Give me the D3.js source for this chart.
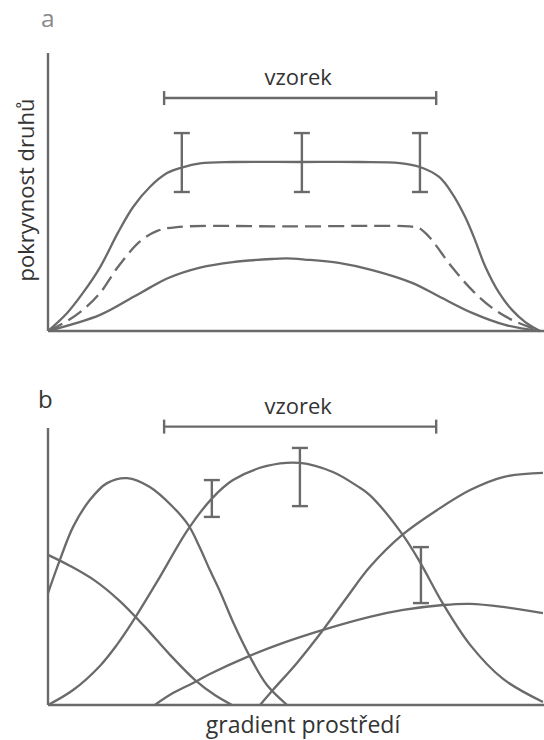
<!DOCTYPE html>
<html>
<head>
<meta charset="utf-8">
<script src="https://cdn.jsdelivr.net/npm/d3@7"></script>
<style>
  html, body { margin: 0; padding: 0; background: #fff; }
  svg { display: block; }
  text { font-family: "Open Sans", "Noto Sans", sans-serif; fill: #333; }
</style>
</head>
<body>
<svg id="chart" width="544" height="740"></svg>
<script>
// ---- Panel a: total cover along the gradient ----
const aTop = [[0,0],[3.9,6.5],[7.1,13.7],[10.6,23.0],[14.2,35.3],[17.3,44.6],[20.7,51.8],[24.2,56.8],
  [27.2,58.8],[30.9,60.3],[37.6,60.8],[51.2,60.8],[63.4,60.8],[71.5,60.4],[75.6,59.0],[79.5,55.4],
  [82.1,49.6],[84.8,41.0],[86.8,32.7],[88.8,23.5],[91.7,13.7],[94.3,7.6],[97.0,3.2],[100,0]];
const aDashed = [[0,0],[3.9,3.6],[7.1,7.6],[10.6,13.7],[14.2,23.0],[18.7,32.2],[22.2,36.0],[26.2,37.4],
  [50,37.6],[73.4,37.6],[75.4,37.0],[77.4,34.0],[82.1,23.0],[86.2,14.7],[90.2,8.4],[94.3,4.0],[100,0]];
const aLow = [[0,0],[10.6,5.8],[17.3,12.2],[20.7,15.6],[24.2,18.9],[30.9,22.8],[37.6,24.8],[45.5,25.9],
  [48.5,26.1],[52.2,25.7],[59.1,24.5],[65.9,21.9],[74.0,17.3],[79.5,12.4],[86.2,6.5],[92.9,2.2],[100,0]];
// error bars: position, low, high
const aBars = [[27.2,50.0,71.2],[51.6,50.0,71.2],[75.6,50.0,71.2]];
const aSample = [23.6, 78.9, 83.8];

// ---- Panel b: individual species along the gradient ----
const bA = [[0,54.2],[4.5,50.2],[9.6,44.8],[14.6,37.5],[19.7,28.2],[24.8,18.1],[29.9,9.0],[33.9,3.6],[37.4,0]];
const bB = [[0,40.4],[2.4,52.3],[5.1,64.3],[8.5,74.0],[12.0,80.1],[16.1,81.9],[20.7,78.7],[25.4,71.5],
  [28.5,65.0],[30.9,56.7],[32.9,48.7],[35.0,40.8],[37.6,30.0],[41.1,17.3],[44.5,7.2],[48.6,0]];
const bC = [[0,0],[5.1,5.4],[10.6,14.2],[14.0,21.7],[17.1,29.8],[22.2,44.6],[28.5,63.5],[33.3,74.5],
  [37.6,81.2],[44.5,86.3],[51.2,87.4],[57.9,84.1],[62.8,79.1],[65.4,75.8],[72.0,61.7],[75.6,51.6],
  [80.3,36.5],[85.8,21.7],[92.5,9.4],[100.6,1.1]];
const bD = [[43.1,0],[45.7,5.4],[50.6,15.2],[55.9,27.1],[60.8,39.0],[65.4,49.8],[72.0,61.4],[79.1,70.4],
  [85.8,77.6],[92.5,82.3],[100.6,83.8]];
const bE = [[21.7,0],[25.4,4.3],[29.9,8.3],[32.9,11.2],[40.4,17.3],[47.8,22.4],[55.9,27.1],[65.4,31.8],
  [72.2,34.3],[80.3,36.1],[85.8,36.5],[92.5,35.4],[100.6,33.2]];
const bBars = [[33.3,67.9,81.2],[51.2,71.8,92.8],[75.8,36.8,57.0]];
const bSample = [23.6, 78.9, 100.5];

const labels = { a: "a", b: "b", sample: "vzorek", yTitle: "pokryvnost druhů", xTitle: "gradient prostředí" };

const ink = "#6a6a6a";
const svg = d3.select("#chart");

const x = d3.scaleLinear().domain([0, 100]).range([48, 540]);
const yA = d3.scaleLinear().domain([0, 100]).range([331, 53]);
const yB = d3.scaleLinear().domain([0, 100]).range([705, 428]);

function drawPanel(y, series, bars, sample) {
  const g = svg.append("g");
  // axes
  g.append("line").attr("x1", x(0)).attr("x2", x(0)).attr("y1", y(100)).attr("y2", y(0))
    .attr("stroke", ink).attr("stroke-width", 2.4);
  g.append("line").attr("x1", x(0)).attr("x2", 544).attr("y1", y(0)).attr("y2", y(0))
    .attr("stroke", ink).attr("stroke-width", 2.4);

  const line = d3.line().x(d => x(d[0])).y(d => y(d[1])).curve(d3.curveCatmullRom.alpha(0.5));
  series.forEach(s => {
    g.append("path").attr("d", line(s.data)).attr("fill", "none")
      .attr("stroke", ink).attr("stroke-width", 2.3)
      .attr("stroke-dasharray", s.dash || null);
  });

  // error bars
  bars.forEach(([bx, lo, hi]) => {
    const cx = x(bx);
    g.append("line").attr("x1", cx).attr("x2", cx).attr("y1", y(lo)).attr("y2", y(hi))
      .attr("stroke", ink).attr("stroke-width", 2.4);
    [lo, hi].forEach(v => g.append("line").attr("x1", cx - 8).attr("x2", cx + 8)
      .attr("y1", y(v)).attr("y2", y(v)).attr("stroke", ink).attr("stroke-width", 2.4));
  });

  // sample range bracket
  const [s0, s1, sy] = sample;
  g.append("line").attr("x1", x(s0)).attr("x2", x(s1)).attr("y1", y(sy)).attr("y2", y(sy))
    .attr("stroke", ink).attr("stroke-width", 2.4);
  [s0, s1].forEach(v => g.append("line").attr("x1", x(v)).attr("x2", x(v))
    .attr("y1", y(sy) - 7).attr("y2", y(sy) + 7).attr("stroke", ink).attr("stroke-width", 2.4));
  g.append("text").attr("x", (x(s0) + x(s1)) / 2 - 2).attr("y", y(sy) - 13)
    .attr("text-anchor", "middle").attr("font-size", 22).text(labels.sample);
}

drawPanel(yA, [{data: aTop}, {data: aDashed, dash: "16,7"}, {data: aLow}], aBars, aSample);
drawPanel(yB, [{data: bA}, {data: bB}, {data: bC}, {data: bD}, {data: bE}], bBars, bSample);

// panel letters and axis titles
svg.append("text").attr("x", 41).attr("y", 26.5).attr("font-size", 24.5)
  .style("fill", "#8a8a8a").text(labels.a);
svg.append("text").attr("x", 38).attr("y", 408).attr("font-size", 24)
  .style("fill", "#333").text(labels.b);
svg.append("text").attr("transform", "translate(34,190) rotate(-90)")
  .attr("text-anchor", "middle").attr("font-size", 22).text(labels.yTitle);
svg.append("text").attr("x", 303).attr("y", 733)
  .attr("text-anchor", "middle").attr("font-size", 23).text(labels.xTitle);
</script>
</body>
</html>
